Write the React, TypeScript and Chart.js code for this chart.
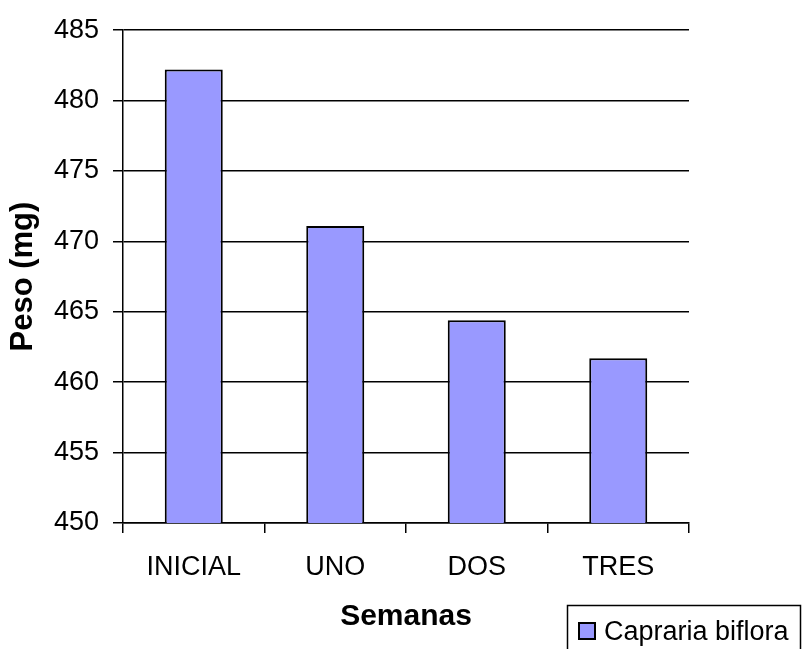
import React, { useEffect, useRef } from "react";
import { Chart, registerables } from "chart.js";

Chart.register(...registerables);

const categories = ["INICIAL", "UNO", "DOS", "TRES"];
const pesoValues = [482.2, 471.1, 464.4, 461.7];
const seriesLabel = "Capraria biflora";
const yMin = 450;
const yMax = 485;
const yStep = 5;

const FONT = '"Liberation Sans", Arial, sans-serif';
const BAR_COLOR = "#9999FF";

const legendPlugin = {
  id: "boxLegend",
  afterDraw(chart: any) {
    const ctx = chart.ctx;
    ctx.save();
    ctx.strokeStyle = "#000";
    ctx.lineWidth = 1.5;
    ctx.strokeRect(567.5, 605.5, 233, 60);
    ctx.fillStyle = BAR_COLOR;
    ctx.fillRect(579, 623, 16, 16);
    ctx.lineWidth = 2;
    ctx.strokeRect(579, 623, 16, 16);
    ctx.fillStyle = "#000";
    ctx.font = `27px ${FONT}`;
    ctx.textBaseline = "alphabetic";
    ctx.textAlign = "left";
    ctx.fillText(seriesLabel, 604, 640);
    ctx.restore();
  },
};

export default function App() {
  const ref = useRef<HTMLCanvasElement>(null);
  useEffect(() => {
    document.body.style.margin = "0";
    const chart = new Chart(ref.current as HTMLCanvasElement, {
      type: "bar",
      data: {
        labels: categories,
        datasets: [
          {
            label: seriesLabel,
            data: pesoValues,
            backgroundColor: BAR_COLOR,
            borderColor: "#000",
            borderWidth: 2,
            categoryPercentage: 1,
            barPercentage: 0.41,
          },
        ],
      },
      options: {
        responsive: false,
        animation: false,
        layout: { padding: { top: 24, right: 113, left: 0, bottom: 0 } },
        plugins: {
          legend: { display: false },
          tooltip: { enabled: false },
        },
        scales: {
          x: {
            afterFit: (s: any) => {
              s.height = 126;
            },
            grid: {
              display: true,
              drawOnChartArea: false,
              drawTicks: true,
              tickLength: 10,
              color: "#000",
              lineWidth: 1.5,
              offset: true,
            },
            border: { display: true, color: "#000", width: 1.5 },
            ticks: {
              color: "#000",
              font: { family: FONT, size: 27 },
              padding: 18,
              maxRotation: 0,
            },
            title: {
              display: true,
              text: "Semanas",
              color: "#000",
              font: { family: FONT, size: 30, weight: "bold" },
              padding: { top: 0, bottom: 14 },
            },
          },
          y: {
            min: yMin,
            max: yMax,
            afterFit: (s: any) => {
              s.width = 123;
            },
            grid: {
              color: "#000",
              lineWidth: 1.5,
              tickLength: 10,
              drawTicks: true,
            },
            border: { display: true, color: "#000", width: 1.5 },
            ticks: {
              stepSize: yStep,
              color: "#000",
              font: { family: FONT, size: 27 },
              padding: 14,
            },
            title: {
              display: true,
              text: "Peso (mg)",
              color: "#000",
              font: { family: FONT, size: 31, weight: "bold" },
              padding: { top: 5, bottom: 0 },
            },
          },
        },
      },
      plugins: [legendPlugin],
    } as any);
    return () => chart.destroy();
  }, []);
  return <canvas ref={ref} width={802} height={649} style={{ display: "block" }} />;
}
